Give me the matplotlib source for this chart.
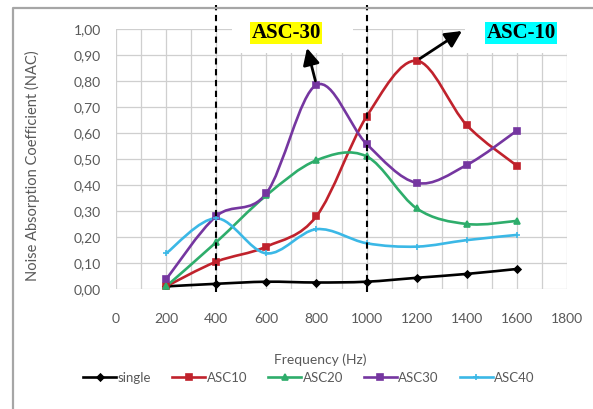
import matplotlib
matplotlib.use('Agg')
import matplotlib.pyplot as plt
import numpy as np
from matplotlib.path import Path
from matplotlib.patches import PathPatch, Rectangle, ConnectionPatch
from matplotlib.lines import Line2D
from matplotlib.ticker import MultipleLocator, FuncFormatter

freq = [200, 400, 600, 800, 1000, 1200, 1400, 1600]
single = [0.01, 0.02, 0.028, 0.025, 0.028, 0.043, 0.058, 0.077]
asc10 = [0.01, 0.105, 0.163, 0.28, 0.663, 0.878, 0.63, 0.474]
asc20 = [0.01, 0.18, 0.36, 0.495, 0.51, 0.31, 0.25, 0.262]
asc30 = [0.037, 0.28, 0.368, 0.785, 0.558, 0.408, 0.477, 0.609]
asc40 = [0.137, 0.272, 0.137, 0.23, 0.176, 0.163, 0.188, 0.208]

names = ['single', 'ASC10', 'ASC20', 'ASC30', 'ASC40']
colors = ['black', '#C0222C', '#2EAD6B', '#7536A0', '#3BB8E6']
markers = ['D', 's', '^', 's', '+']
msizes = [3.5, 5, 4.5, 5, 5]

W, H = 593, 409


def smooth_path(x, y):
    """Excel style smoothed line: cubic bezier with catmull-rom control points"""
    p = np.column_stack([x, y]).astype(float)
    n = len(p)
    verts = [p[0]]
    codes = [Path.MOVETO]
    for i in range(n - 1):
        p0 = p[i - 1] if i > 0 else p[i]
        p3 = p[i + 2] if i + 2 < n else p[i + 1]
        c1 = p[i] + (p[i + 1] - p0) / 6.0
        c2 = p[i + 1] - (p3 - p[i]) / 6.0
        verts += [c1, c2, p[i + 1]]
        codes += [Path.CURVE4] * 3
    return Path(verts, codes)


fig = plt.figure(figsize=(W / 100.0, H / 100.0), dpi=100)
ax = fig.add_axes([116.0 / W, 1 - 289.0 / H, (567.0 - 116.0) / W, 260.0 / H])

series = [single, asc10, asc20, asc30, asc40]
for d, col, mk, ms in zip(series, colors, markers, msizes):
    ax.add_patch(PathPatch(smooth_path(freq, d), facecolor='none', edgecolor=col,
                           lw=1.9, zorder=3))
    ax.plot(freq, d, linestyle='none', marker=mk, color=col, ms=ms,
            mew=1.2, zorder=4)

ax.set_xlim(0, 1800)
ax.set_ylim(0, 1.0)
ax.xaxis.set_major_locator(MultipleLocator(200))
ax.xaxis.set_minor_locator(MultipleLocator(100))
ax.yaxis.set_major_locator(MultipleLocator(0.1))
ax.yaxis.set_major_formatter(FuncFormatter(lambda v, p: ('%.2f' % v).replace('.', ',')))
ax.grid(True, which='both', axis='x', color='#cfcfcf', lw=0.9)
ax.grid(True, which='major', axis='y', color='#cfcfcf', lw=0.9)
ax.set_axisbelow(True)
for s in ax.spines.values():
    s.set_visible(False)
ax.tick_params(which='both', length=0, labelsize=10, labelcolor='#595959')
ax.tick_params(axis='x', pad=17)
ax.tick_params(axis='y', pad=11)
for lab in ax.get_xticklabels() + ax.get_yticklabels():
    lab.set_family('Lato')

ax.set_xlabel('Frequency (Hz)', family='Lato', fontsize=10, color='#595959')
ax.set_ylabel('Noise Absorption Coefficient (NAC)', family='Lato', fontsize=10.5,
              color='#595959')
ax.xaxis.set_label_coords((320 - 116.0) / 451, (289 - 353.0) / 260)
ax.yaxis.set_label_coords((40 - 116.0) / 451, (289 - 166.0) / 260)

# dashed markers at 400 and 1000 Hz
for xv in [400, 1000]:
    ax.plot([xv, xv], [-0.012, 1.092], transform=ax.get_xaxis_transform(),
            color='black', lw=1.5, ls=(0, (3, 2.2)), clip_on=False, zorder=6)

# white boxes behind labels
for x0, x1 in [(232, 353), (465, 593)]:
    fig.patches.append(Rectangle((x0, H - 53), x1 - x0, 38, transform=None,
                                 facecolor='white', edgecolor='none', zorder=2))

fig.text(286, H - 33, 'ASC-30', transform=None, ha='center', va='center',
         family='Liberation Serif', weight='bold', fontsize=15, zorder=7,
         bbox=dict(facecolor='yellow', edgecolor='none', pad=0.8))
fig.text(521, H - 33, 'ASC-10', transform=None, ha='center', va='center',
         family='Liberation Serif', weight='bold', fontsize=15, zorder=7,
         bbox=dict(facecolor='cyan', edgecolor='none', pad=0.8))

for px, py, head in [(800, asc30[3], (307, H - 48)), (1200, asc10[5], (462, H - 31))]:
    arr = ConnectionPatch(xyA=(px, py), coordsA=ax.transData, xyB=head,
                          coordsB='figure pixels', arrowstyle='-|>,head_length=1.0,head_width=0.5',
                          color='black', lw=2.0, shrinkA=3, shrinkB=0, zorder=8)
    fig.add_artist(arr)

# outer chart frame (left and top edges)
fig.add_artist(Line2D([13.0 / W, 13.0 / W, 1.0], [0, 1 - 8.0 / H, 1 - 8.0 / H],
                      transform=fig.transFigure, color='#a6a6a6', lw=1.6))

handles = [Line2D([], [], color=c, marker=m, ms=ms, mew=1.2, lw=1.9)
           for c, m, ms in zip(colors, markers, msizes)]
leg = fig.legend(handles, names, loc='center', bbox_to_anchor=(309.0 / W, 1 - 378.0 / H),
                 ncol=5, frameon=False, prop={'family': 'Lato', 'size': 9.5},
                 handlelength=2.5, handletextpad=0.1, columnspacing=1.6)
for t in leg.get_texts():
    t.set_color('#595959')

plt.savefig('out.png', dpi=100)
